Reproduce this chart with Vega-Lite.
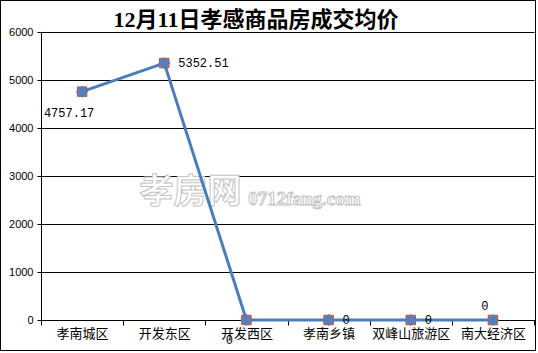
{
  "$schema": "https://vega.github.io/schema/vega-lite/v6.json",
  "width": 536,
  "height": 351,
  "padding": 0,
  "autosize": "none",
  "background": "white",
  "config": {"view": {"stroke": "black", "strokeWidth": 2}, "font": "Liberation Sans"},
  "title": {
    "text": "12月11日孝感商品房成交均价",
    "font": "Liberation Serif, Noto Sans CJK SC",
    "fontSize": 22,
    "fontWeight": "bold",
    "color": "black",
    "anchor": "middle",
    "frame": "group",
    "offset": -54,
    "baseline": "bottom",
    "dx": -12
  },
  "data": {
    "values": [
      {"区域": "孝南城区", "均价": 4757.17},
      {"区域": "开发东区", "均价": 5352.51},
      {"区域": "开发西区", "均价": 0},
      {"区域": "孝南乡镇", "均价": 0},
      {"区域": "双峰山旅游区", "均价": 0},
      {"区域": "南大经济区", "均价": 0}
    ]
  },
  "encoding": {
    "x": {
      "field": "区域",
      "type": "nominal",
      "sort": null,
      "bandPosition": 0.5,
      "scale": {"type": "band", "domain": ["孝南城区", "开发东区", "开发西区", "孝南乡镇", "双峰山旅游区", "南大经济区"], "range": [41, 534], "paddingInner": 0, "paddingOuter": 0},
      "axis": {
        "title": null,
        "offset": -31,
        "labelAngle": 0,
        "labelFont": "Noto Sans CJK SC",
        "labelFontSize": 13,
        "labelColor": "black",
        "domainColor": "black",
        "tickColor": "black",
        "tickSize": 5,
        "tickBand": "extent",
        "labelPadding": 2,
        "grid": false
      }
    },
    "y": {
      "field": "均价",
      "type": "quantitative",
      "scale": {"domain": [0, 6000], "range": [320, 32]},
      "axis": {
        "title": null,
        "offset": -41,
        "values": [0, 1000, 2000, 3000, 4000, 5000, 6000],
        "format": "d",
        "labelFont": "Liberation Sans",
        "labelFontSize": 11,
        "labelColor": "black",
        "domainColor": "black",
        "tickColor": "black",
        "tickSize": 4,
        "labelPadding": 4,
        "grid": true,
        "gridColor": "black",
        "gridOpacity": 1,
        "gridWidth": 1
      }
    }
  },
  "layer": [
    {
      "data": {"values": [{"区域": "开发西区", "均价": 2300, "t": "孝房网"}]},
      "mark": {"type": "text", "font": "Noto Sans CJK SC", "fontSize": 34, "fontWeight": "bold", "fill": "white", "stroke": "#c4c4c4", "strokeWidth": 1, "align": "center", "baseline": "bottom", "dx": -56},
      "encoding": {"text": {"field": "t", "type": "nominal"}}
    },
    {
      "data": {"values": [{"区域": "开发西区", "均价": 2400, "t": "0712fang.com"}]},
      "mark": {"type": "text", "font": "Liberation Serif", "fontSize": 19, "fontWeight": "bold", "fill": "white", "stroke": "#c4c4c4", "strokeWidth": 1, "align": "center", "baseline": "alphabetic", "dx": 58},
      "encoding": {"text": {"field": "t", "type": "nominal"}}
    },
    {"mark": {"type": "line", "color": "#4A7EBB", "strokeWidth": 3}},
    {"mark": {"type": "point", "shape": "square", "size": 90, "filled": true, "fill": "#D0605C", "stroke": "#C0504D", "strokeWidth": 1, "opacity": 1}},
    {"mark": {"type": "point", "shape": "diamond", "size": 150, "filled": true, "fill": "#4F81BD", "opacity": 1}},
    {
      "transform": [{"filter": "datum['区域'] === '孝南城区'"}],
      "mark": {"type": "text", "font": "Liberation Mono", "fontSize": 12, "color": "black", "align": "center", "baseline": "middle", "dx": -13, "dy": 21},
      "encoding": {"text": {"field": "均价", "type": "nominal"}}
    },
    {
      "transform": [{"filter": "indexof(['开发东区','孝南乡镇','双峰山旅游区'], datum['区域']) >= 0"}],
      "mark": {"type": "text", "font": "Liberation Mono", "fontSize": 12, "color": "black", "align": "left", "baseline": "middle", "dx": 14, "dy": 0},
      "encoding": {"text": {"field": "均价", "type": "nominal"}}
    },
    {
      "transform": [{"filter": "datum['区域'] === '开发西区'"}],
      "mark": {"type": "text", "font": "Liberation Mono", "fontSize": 12, "color": "black", "align": "center", "baseline": "middle", "dx": -17, "dy": 20},
      "encoding": {"text": {"field": "均价", "type": "nominal"}}
    },
    {
      "transform": [{"filter": "datum['区域'] === '南大经济区'"}],
      "mark": {"type": "text", "font": "Liberation Mono", "fontSize": 12, "color": "black", "align": "center", "baseline": "middle", "dx": -8, "dy": -14},
      "encoding": {"text": {"field": "均价", "type": "nominal"}}
    }
  ]
}
